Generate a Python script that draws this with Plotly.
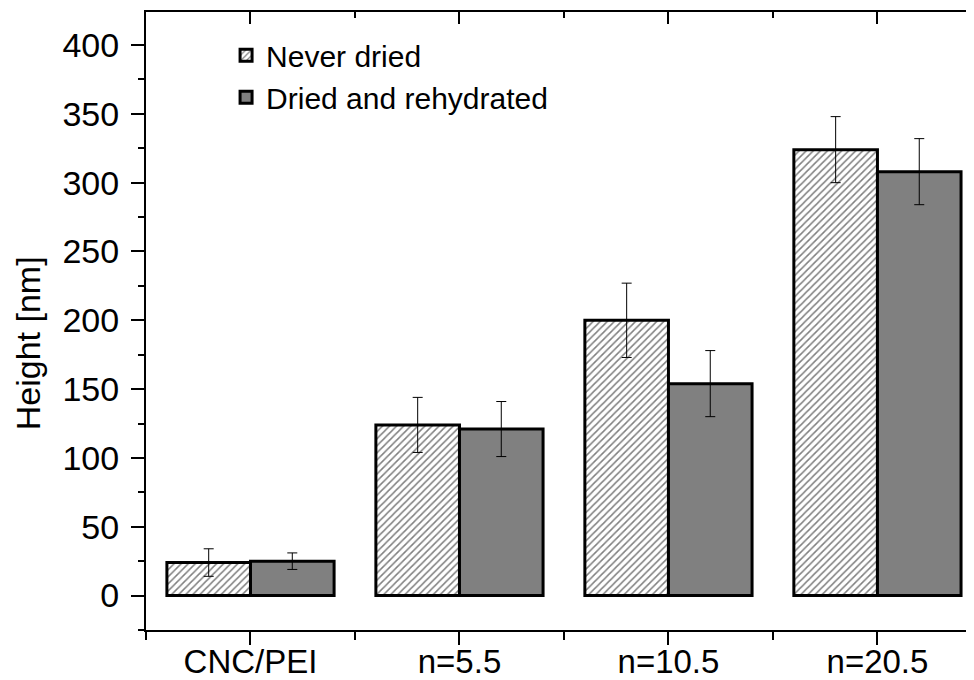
import plotly.graph_objects as go

categories = ["CNC/PEI", "n=5.5", "n=10.5", "n=20.5"]
never_dried = [24, 124, 200, 324]
never_dried_err = [10, 20, 27, 24]
rehydrated = [25, 121, 154, 308]
rehydrated_err = [6, 20, 24, 24]
series_names = ["Never dried", "Dried and rehydrated"]
y_ticks = [0, 50, 100, 150, 200, 250, 300, 350, 400]

pos = list(range(len(categories)))
FONT = "Arial, Liberation Sans, sans-serif"

fig = go.Figure()
fig.add_trace(go.Bar(
    x=pos, y=never_dried, name=series_names[0],
    marker=dict(color="white", line=dict(color="black", width=3),
                pattern=dict(shape="/", fgcolor="black", bgcolor="white", size=5, solidity=0.3)),
    error_y=dict(type="data", array=never_dried_err, color="black", thickness=1, width=5),
))
fig.add_trace(go.Bar(
    x=pos, y=rehydrated, name=series_names[1],
    marker=dict(color="#808080", line=dict(color="black", width=3)),
    error_y=dict(type="data", array=rehydrated_err, color="black", thickness=1, width=5),
))
# invisible helper trace so the mirrored (top/right) axes get drawn
fig.add_trace(go.Scatter(x=pos, y=never_dried, xaxis="x2", yaxis="y2", mode="markers",
                         marker=dict(opacity=0), showlegend=False, hoverinfo="skip"))

xr = [-0.5, 3.462]
yr = [-25, 424]
minor_x = [-0.5, 0.5, 1.5, 2.5, 3.5]

# the page places the figure 8px from the window's top-left corner; margins compensate
fig.update_layout(
    width=974, height=680,
    margin=dict(l=138, r=8, t=4, b=58, autoexpand=False),
    paper_bgcolor="white", plot_bgcolor="white",
    barmode="group", bargap=0.2, bargroupgap=0,
    font=dict(family=FONT, color="black"),
    showlegend=True,
    legend=dict(x=0.0967, y=0.972, xanchor="left", yanchor="top",
                font=dict(size=30, family=FONT), bgcolor="rgba(0,0,0,0)",
                tracegroupgap=0, itemwidth=30),
    xaxis=dict(range=xr, tickmode="array", tickvals=pos, ticktext=categories,
               ticks="outside", ticklen=13, tickwidth=1.5, tickcolor="black", automargin=False,
               showline=True, linewidth=2, linecolor="black", showgrid=False, zeroline=False,
               tickfont=dict(size=33, family=FONT), ticklabelstandoff=-12,
               minor=dict(tickvals=minor_x, ticks="outside", ticklen=8, tickwidth=1.5, tickcolor="black")),
    xaxis2=dict(range=xr, overlaying="x", side="top", tickmode="array", tickvals=pos, automargin=False,
                showticklabels=False, ticks="inside", ticklen=12, tickwidth=1.5, tickcolor="black",
                showline=True, linewidth=2, linecolor="black", showgrid=False, zeroline=False,
                minor=dict(tickvals=minor_x, ticks="inside", ticklen=6, tickwidth=1.5, tickcolor="black")),
    yaxis=dict(range=yr, tickmode="array", tickvals=y_ticks, automargin=False,
               ticks="outside", ticklen=13, tickwidth=1.5, tickcolor="black",
               showline=True, linewidth=2, linecolor="black", showgrid=False, zeroline=False,
               tickfont=dict(size=34, family=FONT), ticklabelstandoff=5,
               minor=dict(dtick=25, tick0=0, ticks="outside", ticklen=6, tickwidth=1.5, tickcolor="black")),
    yaxis2=dict(range=yr, overlaying="y", side="right", tickmode="array", tickvals=y_ticks, automargin=False,
                showticklabels=False, ticks="inside", ticklen=5, tickwidth=1.5, tickcolor="black",
                showline=False, showgrid=False, zeroline=False),
    annotations=[dict(text="Height [nm]", textangle=-90, xref="paper", yref="paper",
                      x=-0.1425, y=0.464, xanchor="center", yanchor="middle", showarrow=False,
                      font=dict(size=34, family=FONT))],
)

fig.write_html("out.html")
